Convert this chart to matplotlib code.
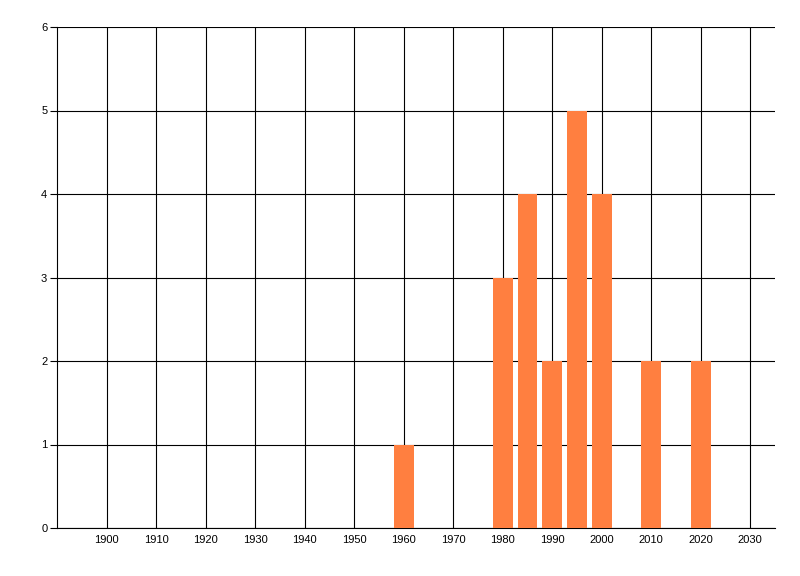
import matplotlib
matplotlib.use('Agg')
import matplotlib.pyplot as plt

years = [1960, 1980, 1985, 1990, 1995, 2000, 2010, 2020]
counts = [1, 3, 4, 2, 5, 4, 2, 2]
xticks = list(range(1900, 2031, 10))
yticks = [0, 1, 2, 3, 4, 5, 6]

plt.rcParams['font.family'] = ['Liberation Sans', 'DejaVu Sans']

fig = plt.figure(figsize=(8, 5.76), dpi=100)
ax = fig.add_axes([57/800, 1 - 528/576, (775 - 57)/800, (528 - 27)/576])

ax.bar(years, counts, width=4, color='#ff7f40', zorder=3)

ax.set_xlim(1890, 2035)
ax.set_ylim(0, 6)
ax.set_xticks(xticks)
ax.set_yticks(yticks)
ax.grid(True, color='black', linewidth=0.8, zorder=1)
ax.set_axisbelow(True)

for s in ['top', 'right']:
    ax.spines[s].set_visible(False)
ax.spines['left'].set_linewidth(0.8)
ax.spines['bottom'].set_linewidth(0.8)

ax.tick_params(axis='x', length=0, pad=5, labelsize=8)
ax.tick_params(axis='y', length=5, width=0.8, pad=2, labelsize=8)

fig.savefig('out.png', dpi=100)
